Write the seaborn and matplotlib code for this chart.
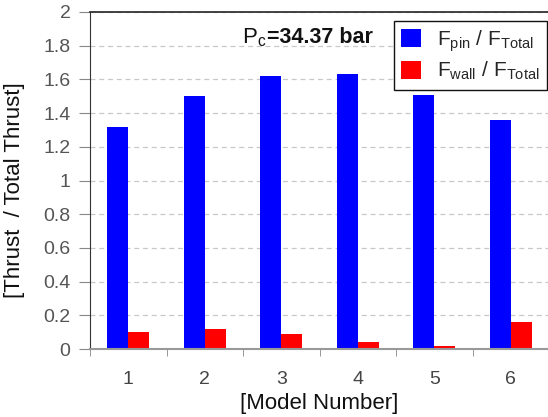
import matplotlib
matplotlib.use("Agg")
import matplotlib.pyplot as plt
import seaborn as sns
import pandas as pd
import numpy as np

models = ["1", "2", "3", "4", "5", "6"]
f_pin = [1.32, 1.50, 1.62, 1.63, 1.51, 1.36]
f_wall = [0.10, 0.12, 0.087, 0.044, 0.017, 0.16]
series = ["$\\mathregular{F_{pin}}$ / $\\mathregular{F_{Total}}$",
          "$\\mathregular{F_{wall}}$ / $\\mathregular{F_{Total}}$"]
colors = ["#0000ff", "#ff0000"]
y_ticks = [0, 0.2, 0.4, 0.6, 0.8, 1, 1.2, 1.4, 1.6, 1.8, 2]
y_tick_labels = ["0", "0.2", "0.4", "0.6", "0.8", "1", "1.2", "1.4", "1.6", "1.8", "2"]

df = pd.DataFrame({
    "Model": models * 2,
    "Value": f_pin + f_wall,
    "Series": [series[0]] * len(models) + [series[1]] * len(models),
})

sns.set_style("white")
plt.rcParams["font.family"] = ["Liberation Sans", "DejaVu Sans"]

fig = plt.figure(figsize=(5.48, 4.17), dpi=100)
ax = fig.add_axes([90 / 548, 68 / 417, 459 / 548, 337 / 417])

sns.barplot(data=df, x="Model", y="Value", hue="Series", palette=colors,
            width=0.55, gap=0, saturation=1, ax=ax, edgecolor="none")

ax.set_ylim(0, 2)
ax.set_xlim(-0.5, 5.5)
ax.set_yticks(y_ticks)
ax.set_yticklabels(y_tick_labels)
ax.yaxis.grid(True, linestyle=(0, (4, 3)), color="#c8c8c8", linewidth=0.9)
ax.set_axisbelow(True)

# category labels drawn below the axis, tick marks between categories
ax.set_xticks(range(len(models)))
ax.set_xticklabels([])
ax.set_xticks(np.arange(-0.5, 6.0, 1.0), minor=True)
ax.tick_params(axis="x", which="major", length=0)
ax.tick_params(axis="x", which="minor", length=5, color="#888888", direction="out", bottom=True)
ax.tick_params(axis="y", length=8, color="#888888", direction="out", left=True,
               labelsize=14, labelcolor="#555555", pad=6)
xtrans = ax.get_xaxis_transform()
for i, m in enumerate(models):
    ax.text(i, -31 / 337, m, transform=xtrans, ha="center", va="center",
            fontsize=14, color="#444444")

ax.spines["top"].set_color("#333333")
ax.spines["top"].set_linewidth(1.3)
ax.spines["left"].set_color("#333333")
ax.spines["left"].set_linestyle((0, (3, 1)))
ax.spines["bottom"].set_color("#999999")
ax.spines["bottom"].set_linewidth(1.5)
ax.spines["right"].set_visible(False)

ax.set_xlabel("")
fig.text((90 + 459 / 2) / 548, 1 - 403 / 417, "[Model Number]", fontsize=16,
         color="#111111", ha="center", va="center")
ax.set_ylabel("")
fig.text(15 / 548, 1 - 190 / 417, "[Thrust  / Total Thrust]", fontsize=16,
         color="#111111", ha="center", va="center", rotation=90)

ax.text(1.80, 1.85, "P$\\mathregular{_c}$", fontsize=16, ha="right", va="center", color="#111111")
ax.text(1.81, 1.85, "=34.37 bar", fontsize=15.5, fontweight="bold", ha="left", va="center", color="#111111")

leg = ax.legend(loc="upper right", bbox_to_anchor=(0.995, 0.973), fontsize=15,
                frameon=True, fancybox=False, edgecolor="#111111", framealpha=1,
                handlelength=0.95, handleheight=0.95, handletextpad=0.75,
                borderpad=0.35, labelspacing=0.3, borderaxespad=0)
leg.get_frame().set_linewidth(1.0)

fig.savefig("out.png", dpi=100)
